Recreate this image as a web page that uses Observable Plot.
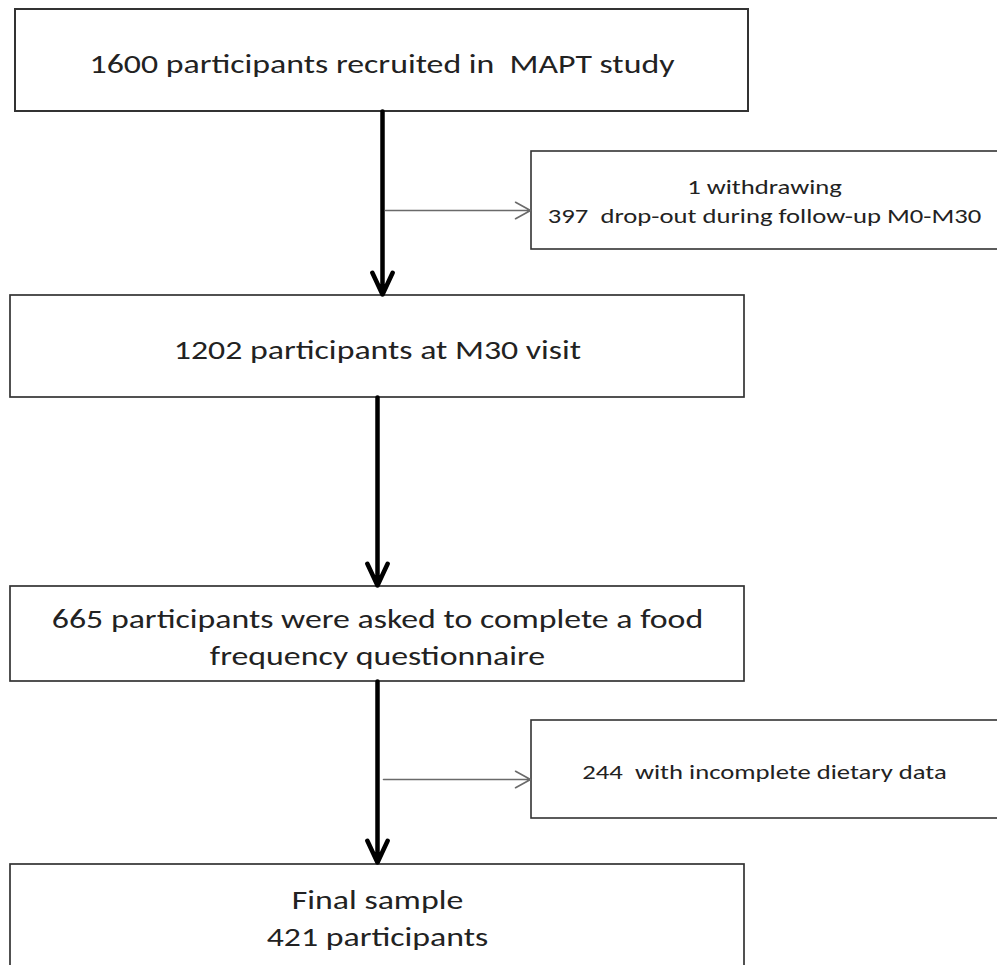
<!DOCTYPE html>
<html><head><meta charset="utf-8">
<script src="https://cdn.jsdelivr.net/npm/d3@7"></script>
<script src="https://cdn.jsdelivr.net/npm/@observablehq/plot@0.6"></script>
<style>body{margin:0;background:#fff;overflow:hidden}</style>
</head><body><div id="chart"></div>
<script>
// ---- data ----
const stageLabels = [
  "1600 participants recruited in  MAPT study",
  "1202 participants at M30 visit",
  "665 participants were asked to complete a food\nfrequency questionnaire",
  "Final sample\n421 participants"
];
const exclusionLabels = [
  "1 withdrawing\n397  drop-out during follow-up M0-M30",
  "244  with incomplete dietary data"
];

// ---- layout (pixel positions) ----
const stageBoxes = [
  {x1: 15, x2: 748, y1: 9,   y2: 111, ty: 60,  sw: 2},
  {x1: 10, x2: 744, y1: 295, y2: 397, ty: 346, sw: 1.7},
  {x1: 10, x2: 744, y1: 586, y2: 681, ty: 634, sw: 1.7},
  {x1: 10, x2: 744, y1: 864, y2: 980, ty: 915, sw: 1.7}
];
const sideBoxes = [
  {x1: 531, x2: 1010, y1: 151, y2: 249, ty: 199},
  {x1: 531, x2: 1010, y1: 720, y2: 818, ty: 769}
];
const mainArrows = [
  {x: 382, y1: 111, y2: 294},
  {x: 377, y1: 397, y2: 585},
  {x: 377, y1: 681, y2: 862}
];
const sideArrows = [
  {x1: 385, x2: 530, y: 210},
  {x1: 383, x2: 530, y: 779}
];
const textStretch = 1.3;

const stages = stageLabels.map((label, i) => ({label, ...stageBoxes[i], cx: (stageBoxes[i].x1 + stageBoxes[i].x2) / 2}));
const sides = exclusionLabels.map((label, i) => ({label, ...sideBoxes[i], cx: 764}));

const font = "Carlito, Calibri, Lato, sans-serif";

const chart = Plot.plot({
  width: 997, height: 965,
  margin: 0,
  x: {domain: [0, 997], range: [0, 997], axis: null},
  y: {domain: [0, 965], range: [0, 965], axis: null},
  style: {fontFamily: font, background: "white"},
  marks: [
    Plot.rect(stages, {x1: "x1", x2: "x2", y1: "y1", y2: "y2", fill: "white", stroke: "#333", strokeWidth: "sw"}),
    Plot.rect(sides, {x1: "x1", x2: "x2", y1: "y1", y2: "y2", fill: "white", stroke: "#333", strokeWidth: 1.6}),
    Plot.arrow(mainArrows, {x1: "x", x2: "x", y1: "y1", y2: "y2", stroke: "black", strokeWidth: 4.5, headLength: 8, headAngle: 50}),
    Plot.arrow(sideArrows, {x1: "x1", x2: "x2", y1: "y", y2: "y", stroke: "#6a6a6a", strokeWidth: 1.6, headLength: 16, headAngle: 58}),
    Plot.text(stages, {x: "cx", y: "ty", text: "label", fontSize: 26, lineHeight: 1.45, lineAnchor: "middle", fill: "#222"}),
    Plot.text(sides, {x: "cx", y: "ty", text: "label", fontSize: 20.5, lineHeight: 1.4, lineAnchor: "middle", fill: "#222"})
  ]
});
document.getElementById("chart").appendChild(chart);

// widen the glyphs horizontally to match the reference's stretched lettering
chart.querySelectorAll("text").forEach(t => {
  const spans = t.querySelectorAll("tspan");
  const targets = spans.length ? Array.from(spans) : [t];
  targets.forEach(el => {
    const len = el.getComputedTextLength();
    if (len > 0) {
      el.setAttribute("textLength", (len * textStretch).toFixed(1));
      el.setAttribute("lengthAdjust", "spacingAndGlyphs");
    }
  });
});
</script>
</body></html>
